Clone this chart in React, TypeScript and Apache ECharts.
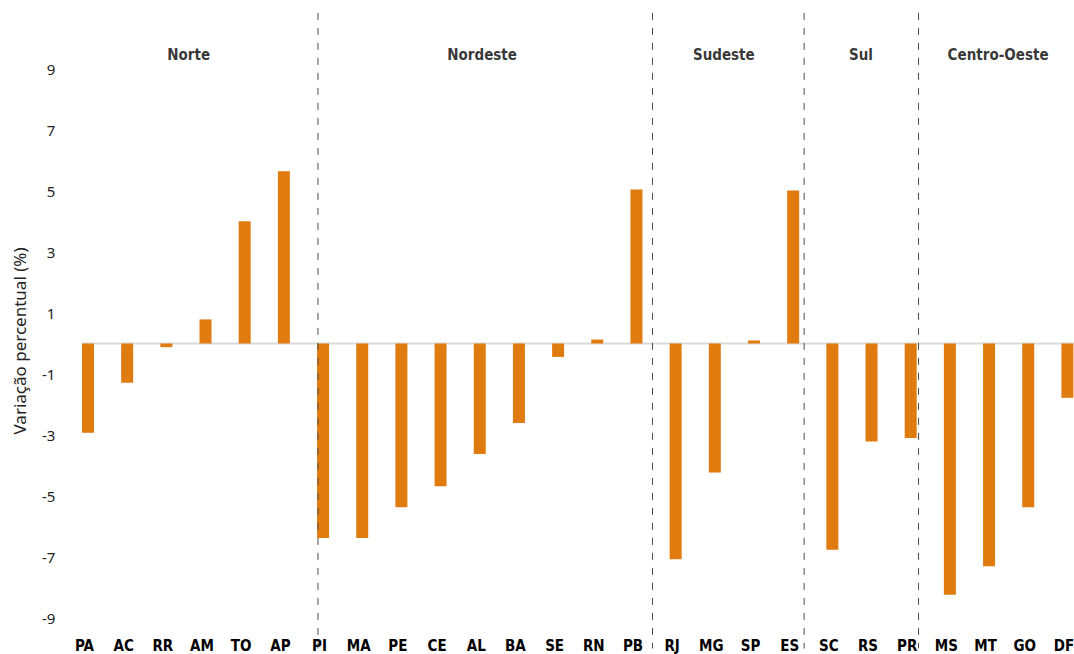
import React, { useEffect, useRef } from "react";
import * as echarts from "echarts";

const categories = ["PA","AC","RR","AM","TO","AP","PI","MA","PE","CE","AL","BA","SE","RN","PB","RJ","MG","SP","ES","SC","RS","PR","MS","MT","GO","DF"];
const values = [-2.93,-1.29,-0.12,0.79,4.01,5.65,-6.38,-6.38,-5.37,-4.68,-3.62,-2.61,-0.44,0.13,5.05,-7.07,-4.23,0.1,5.02,-6.76,-3.21,-3.10,-8.24,-7.30,-5.37,-1.78];
const regionNames = ["Norte","Nordeste","Sudeste","Sul","Centro-Oeste"];
const regionLabelX = [2.57, 10.06, 16.23, 19.73, 23.23];
const regionLabelY = 9.45;
const separatorX = [5.87, 14.41, 18.28, 21.2];
const separatorTop = 10.84;
const separatorBottom = -10;
const yTickLabels = [9,7,5,3,1,-1,-3,-5,-7,-9];
const yTitle = "Variação percentual (%)";

const FONT = "'DejaVu Sans Condensed', 'Noto Sans', Roboto, sans-serif";
const FONT_REG = "'Noto Sans', Roboto, sans-serif";

export default function App() {
  const ref = useRef<HTMLDivElement>(null);
  useEffect(() => {
    if (!ref.current) return;
    const chart = echarts.init(ref.current, undefined, { renderer: "svg" });
    const sepSeries = separatorX.map((x) => ({
      type: "line",
      xAxisIndex: 1,
      yAxisIndex: 0,
      data: [[x, separatorTop], [x, separatorBottom]],
      symbol: "none",
      silent: true,
      z: 5,
      lineStyle: { color: "#4d4d4d", width: 1, type: [7, 8] },
    }));
    chart.setOption({
      animation: false,
      grid: { left: 68.4, right: 0, top: 8, bottom: 5.5, containLabel: false },
      xAxis: [
        {
          type: "category",
          data: categories,
          position: "bottom",
          axisLine: { show: false },
          axisTick: { show: false },
          axisLabel: {
            margin: -10,
            color: "#000",
            fontFamily: FONT,
            fontWeight: "bold",
            fontSize: 15,
            interval: 0,
            padding: [0, 7, 0, 0],
          },
          splitLine: { show: false },
        },
        {
          type: "value",
          min: -0.5,
          max: 25.5,
          show: false,
        },
      ],
      yAxis: {
        type: "value",
        min: -10,
        max: 11,
        interval: 1,
        axisLine: { show: false },
        axisTick: { show: false },
        splitLine: { show: false },
        axisLabel: {
          margin: 13,
          color: "#222",
          fontFamily: FONT_REG,
          fontSize: 15,
          formatter: (v: number) => (yTickLabels.indexOf(v) >= 0 ? String(v) : ""),
        },
      },
      graphic: [
        {
          type: "text",
          x: 19,
          y: 341,
          rotation: Math.PI / 2,
          style: {
            text: yTitle,
            fill: "#222",
            font: `17px ${FONT_REG}`,
            textAlign: "center",
            textVerticalAlign: "middle",
          },
        },
      ],
      series: [
        {
          type: "line",
          xAxisIndex: 1,
          yAxisIndex: 0,
          data: [[-0.15, 0], [25.5, 0]],
          symbol: "none",
          silent: true,
          z: 1,
          lineStyle: { color: "#d9d9d9", width: 2 },
        },
        {
          type: "bar",
          xAxisIndex: 0,
          yAxisIndex: 0,
          data: values,
          barWidth: 12,
          z: 2,
          itemStyle: { color: "#E07B10" },
        },
        ...sepSeries,
        {
          type: "scatter",
          xAxisIndex: 1,
          yAxisIndex: 0,
          symbolSize: 0,
          silent: true,
          data: regionNames.map((n, i) => ({ name: n, value: [regionLabelX[i], regionLabelY] })),
          label: {
            show: true,
            position: "inside",
            formatter: (p: any) => p.name,
            color: "#000",
            fontFamily: FONT,
            fontWeight: "bold",
            fontSize: 15,
          },
        },
      ],
    });
    return () => chart.dispose();
  }, []);
  return (
    <div
      ref={ref}
      style={{ position: "fixed", left: 0, top: 0, width: 1087, height: 654, background: "#fff" }}
    />
  );
}
